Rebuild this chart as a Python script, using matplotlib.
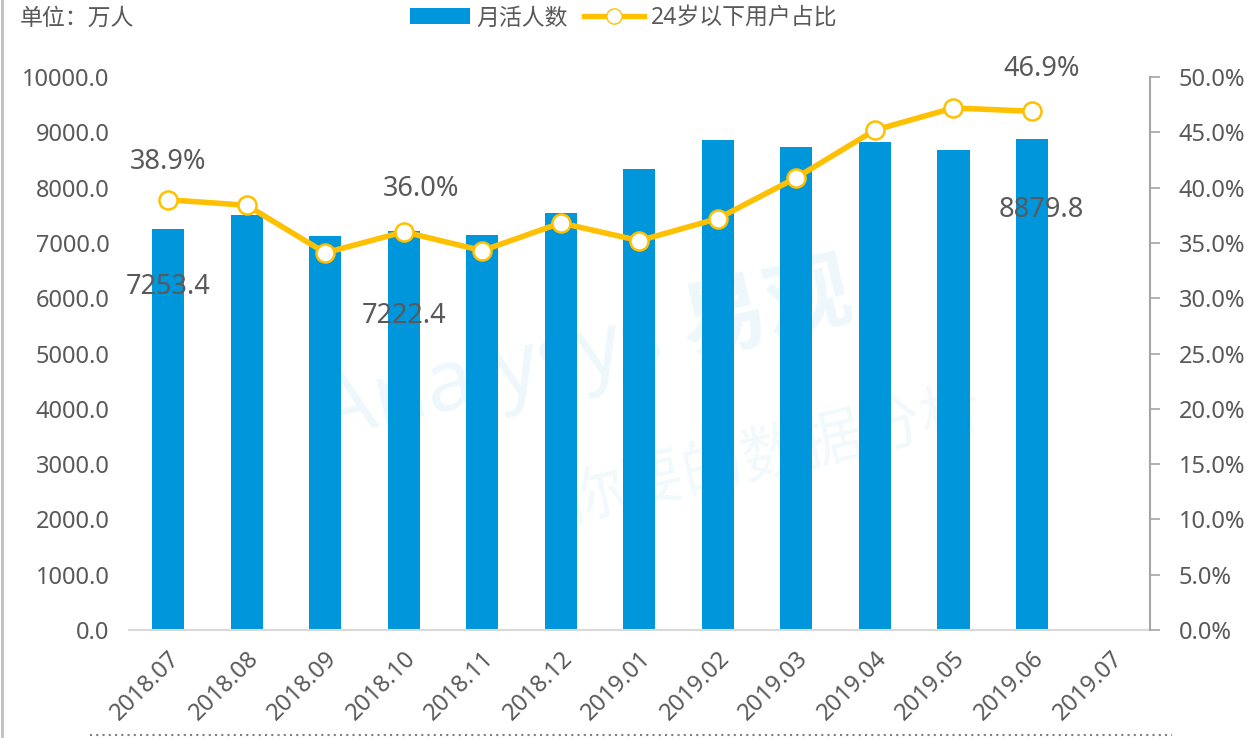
import matplotlib.pyplot as plt
from matplotlib.lines import Line2D
from matplotlib.patches import Patch

plt.rcParams['font.family'] = ['Noto Sans', 'Noto Sans CJK SC', 'DejaVu Sans']

months = ['2018.07', '2018.08', '2018.09', '2018.10', '2018.11', '2018.12',
          '2019.01', '2019.02', '2019.03', '2019.04', '2019.05', '2019.06', '2019.07']
mau = [7253.4, 7505, 7125, 7222.4, 7143, 7540,
       8336, 8860, 8734, 8824, 8680, 8879.8]
young_share = [38.9, 38.4, 34.1, 36.0, 34.3, 36.8,
               35.2, 37.2, 40.9, 45.2, 47.2, 46.9]

bar_color = '#0096DC'
line_color = '#FFC000'
text_color = '#595959'

fig = plt.figure(figsize=(12.47, 7.38), dpi=100)
ax = fig.add_axes([0.1034, 0.1463, 0.8186, 0.7494])
ax2 = ax.twinx()

# faint watermark behind the data
fig.text(0.47, 0.52, 'Analysys 易观', fontsize=62, color='#0096DC', alpha=0.07,
         rotation=13, ha='center', va='center', fontweight='bold', zorder=0)
fig.text(0.62, 0.38, '你要的数据分析', fontsize=44, color='#0096DC', alpha=0.06,
         rotation=13, ha='center', va='center', zorder=0)

x = list(range(len(mau)))
ax.bar(x, mau, width=0.41, color=bar_color, zorder=2)
ax.set_xlim(-0.5, len(months) - 0.5)
ax.set_ylim(0, 10000)
ax.set_yticks(range(0, 10001, 1000))
ax.set_yticklabels(['%.1f' % v for v in range(0, 10001, 1000)])
ax.set_xticks(range(len(months)))
ax.set_xticklabels(months, rotation=45, ha='right', rotation_mode='anchor')

ax2.plot(x, young_share, color=line_color, lw=4, marker='o', markersize=13,
         markerfacecolor='white', markeredgecolor=line_color, markeredgewidth=1.8,
         zorder=3)
ax2.set_ylim(0, 50)
ax2.set_yticks(range(0, 51, 5))
ax2.set_yticklabels(['%.1f%%' % v for v in range(0, 51, 5)])

for a in (ax, ax2):
    for s in ('top', 'left', 'right', 'bottom'):
        a.spines[s].set_visible(False)
ax.spines['bottom'].set_visible(True)
ax.spines['bottom'].set_color('#d9d9d9')
ax.spines['bottom'].set_linewidth(1.5)
ax2.spines['right'].set_visible(True)
ax2.spines['right'].set_color('#a6a6a6')
ax2.spines['right'].set_linewidth(1.5)

ax.tick_params(axis='y', length=0, labelsize=17, labelcolor=text_color, pad=14)
ax.tick_params(axis='x', length=0, labelsize=17, labelcolor=text_color, pad=12)
ax2.tick_params(axis='y', length=7, width=1.2, color='#a6a6a6', direction='out',
                labelsize=17, labelcolor=text_color, pad=14)

# value labels
lbl = dict(ha='center', va='center', fontsize=19.5, color=text_color, zorder=4)
ax.text(0, 7253.4 - 1050, '7253.4', **lbl)
ax.text(3, 7222.4 - 1550, '7222.4', **lbl)
ax.text(11.12, 7600, '8879.8', **lbl)
ax2.text(0, 38.9 + 3.4, '38.9%', **lbl)
ax2.text(3.22, 36.0 + 3.9, '36.0%', **lbl)
ax2.text(11.12, 46.9 + 3.8, '46.9%', **lbl)

# legend and unit note
handles = [Patch(facecolor=bar_color, edgecolor='none'),
           Line2D([], [], color=line_color, lw=3.8, marker='o', markersize=11,
                  markerfacecolor='white', markeredgecolor=line_color)]
leg = fig.legend(handles, ['月活人数', '24岁以下用户占比'], loc='center',
                 bbox_to_anchor=(0.5, 0.975), ncol=2, frameon=False,
                 fontsize=16.5, handlelength=2.6, handletextpad=0.3,
                 columnspacing=0.7, handleheight=0.7)
for t in leg.get_texts():
    t.set_color(text_color)
fig.text(0.016, 0.975, '单位：万人', fontsize=16.5, color=text_color, va='center')

# frame details
fig.add_artist(Line2D([0.002, 0.002], [0, 1], color='#bfbfbf', lw=2))
fig.add_artist(Line2D([0.072, 0.94], [0.004, 0.004], color='#7f7f7f', lw=1.5,
                      linestyle=(0, (1, 2))))

fig.savefig('out.png', dpi=100)
